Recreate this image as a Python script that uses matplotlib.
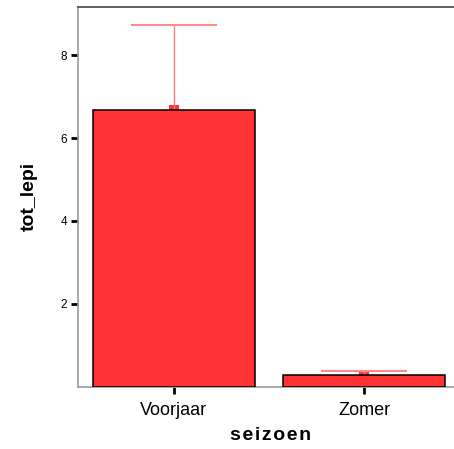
import matplotlib
matplotlib.use("Agg")
import matplotlib.pyplot as plt

plt.rcParams['font.family'] = ['Liberation Sans', 'DejaVu Sans']

seasons = ["Voorjaar", "Zomer"]
means = [6.69, 0.28]
upper = [8.74, 0.37]
yticks = [2, 4, 6, 8]

fig = plt.figure(figsize=(4.54, 4.49), dpi=100)
ax = fig.add_axes([78/454, 62.5/449, 376/454, 379.5/449])

x = list(range(len(seasons)))
ax.bar(x, means, width=0.853, color="#ff3333", edgecolor="black", linewidth=1.1, zorder=3)

# mean marker, half tucked behind the bar top
ax.plot(x, means, "s", color="#ff3333", markersize=6.5, markeredgewidth=0, zorder=2)

# upper error whiskers with caps
cap_half = 0.226
ax.vlines(x, means, upper, color="#ff7f7f", linewidth=1.0, zorder=2)
ax.hlines(upper, [xi - cap_half for xi in x], [xi + cap_half for xi in x],
          color="#ff8c8c", linewidth=1.5, zorder=2)

ax.set_xlim(-0.505, 1.474)
ax.set_ylim(0, 9.17)
ax.set_xticks(x)
ax.set_xticklabels(seasons, fontsize=13)
ax.set_yticks(yticks)
ax.set_yticklabels([str(t) for t in yticks], fontsize=8.5)

ax.tick_params(axis="both", direction="out", length=5, width=2, color="black")
ax.tick_params(axis="x", pad=6)
ax.tick_params(axis="y", pad=3)

ax.spines["right"].set_visible(False)
ax.spines["top"].set_color("#444444")
ax.spines["left"].set_color("#999999")
ax.spines["bottom"].set_color("#999999")
for s in ["top", "left", "bottom"]:
    ax.spines[s].set_linewidth(1.2)

ax.set_xlabel("\u200a".join("seizoen"), fontsize=14, fontweight="bold", labelpad=6)
ax.xaxis.label.set_x(0.513)
ax.set_ylabel("tot_lepi", fontsize=14, fontweight="bold", labelpad=16)

fig.savefig("out.png", dpi=100)
